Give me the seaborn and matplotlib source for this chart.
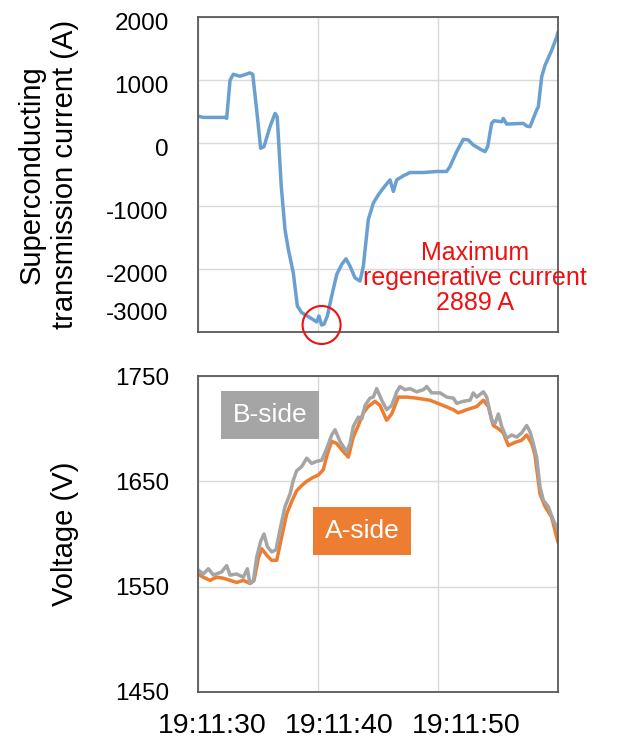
import numpy as np
import pandas as pd
import matplotlib
matplotlib.use("Agg")
import matplotlib.pyplot as plt
import matplotlib.transforms as mtrans
import seaborn as sns

# -------------------------
# Data (seconds after 19:11:30)
# -------------------------

cur_t = [0, 0.44, 2.25, 2.39, 2.67, 2.94, 3.5, 4.33, 4.56, 4.89, 5.22, 5.5, 6.0, 6.42, 6.6,
         6.94, 7.25, 7.53, 7.94, 8.28, 8.64, 9.33, 9.89, 10.08, 10.3, 10.5, 10.78, 11.14,
         11.56, 11.97, 12.33, 12.67, 13.08, 13.5, 13.78, 14.19, 14.61, 15.03, 15.44, 16.0,
         16.28, 16.56, 17.11, 17.67, 18.78, 19.89, 20.72, 21.0, 21.56, 22.11, 22.53, 22.94,
         23.64, 23.92, 24.14, 24.47, 24.67, 25.31, 25.44, 25.72, 27.11, 27.39, 27.67, 28.22,
         28.36, 28.64, 28.92, 29.47, 29.89, 30.0]
cur_a = [427, 406, 406, 390, 996, 1090, 1059, 1112, 1090, 522, -84, -58, 258, 469, 416,
         -690, -1375, -1692, -2060, -2588, -2693, -2772, -2840, -2746, -2889, -2877, -2746, -2430,
         -2087, -1929, -1839, -1955, -2140, -2192, -1955, -1217, -954, -822, -717, -585,
         -769, -585, -522, -469, -469, -453, -453, -374, -137, 58, 47, -32,
         -111, -137, -58, 311, 353, 337, 390, 300, 311, 269, 258, 522,
         574, 1049, 1233, 1470, 1681, 1760]

b_t = [0, 0.44, 0.86, 1.28, 1.97, 2.39, 2.67, 3.22, 3.78, 4.11, 4.33, 4.61, 4.89, 5.22, 5.5,
       5.78, 6.14, 6.5, 6.83, 7.25, 7.67, 7.94, 8.22, 8.64, 9.06, 9.47, 9.89, 10.31, 10.72,
       11.14, 11.42, 11.83, 12.39, 12.67, 12.94, 13.36, 13.64, 13.92, 14.33, 14.61, 14.89,
       15.31, 15.72, 16.14, 16.56, 16.83, 17.25, 17.67, 18.22, 18.78, 19.06, 19.47, 20.17,
       20.72, 21.28, 21.56, 22.11, 22.67, 22.94, 23.22, 23.78, 24.06, 24.47, 24.75, 25.03,
       25.31, 25.72, 26.14, 26.56, 26.97, 27.39, 27.67, 27.94, 28.22, 28.5, 28.78, 29.19,
       29.61, 29.89, 30.0]
b_v = [1566, 1562, 1567, 1561, 1564, 1570, 1561, 1562, 1559, 1567, 1553, 1555, 1578, 1593, 1600,
       1588, 1583, 1585, 1604, 1626, 1638, 1651, 1660, 1664, 1672, 1667, 1669, 1670, 1681,
       1694, 1699, 1688, 1678, 1686, 1702, 1711, 1709, 1722, 1729, 1730, 1738,
       1727, 1718, 1722, 1735, 1740, 1737, 1738, 1735, 1737, 1740, 1734, 1734,
       1730, 1729, 1724, 1726, 1727, 1734, 1730, 1735, 1730, 1708, 1705, 1714,
       1702, 1691, 1694, 1692, 1696, 1703, 1697, 1686, 1673, 1645, 1632, 1626,
       1613, 1607, 1603]

a_t = [0, 0.44, 1.0, 1.56, 2.11, 2.67, 3.22, 3.78, 4.33, 4.67, 5.03, 5.31, 5.72, 6.14, 6.56,
       6.97, 7.39, 7.81, 8.22, 8.64, 9.06, 9.47, 10.03, 10.44, 10.78, 11.14, 11.56, 11.97,
       12.53, 12.94, 13.36, 13.78, 14.19, 14.75, 15.17, 15.72, 16.14, 16.69, 17.39, 18.22,
       19.33, 20.44, 21.28, 21.69, 22.39, 23.22, 23.78, 24.19, 24.61, 25.03, 25.44, 25.86,
       26.42, 26.97, 27.39, 27.81, 28.08, 28.5, 28.92, 29.47, 29.89, 30.0]
a_v = [1562, 1559, 1556, 1559, 1558, 1556, 1554, 1556, 1553, 1556, 1577, 1586, 1580, 1575, 1575,
       1597, 1619, 1631, 1641, 1646, 1650, 1653, 1656, 1661, 1676, 1688, 1686, 1680,
       1673, 1692, 1703, 1715, 1721, 1726, 1722, 1708, 1714, 1730, 1730, 1729,
       1727, 1722, 1718, 1715, 1718, 1721, 1727, 1721, 1703, 1700, 1696, 1684,
       1687, 1689, 1694, 1686, 1675, 1638, 1626, 1616, 1597, 1592]

x_ticks = [0, 10, 20]
x_labels = ["19:11:30", "19:11:40", "19:11:50"]
cur_ticks = [2000, 1000, 0, -1000, -2000, -3000]
volt_ticks = [1750, 1650, 1550, 1450]

# -------------------------
# Style
# -------------------------

sns.set_style("whitegrid")
plt.rcParams["font.family"] = ["Liberation Sans", "DejaVu Sans"]
plt.rcParams["text.color"] = "black"
plt.rcParams["axes.labelcolor"] = "black"
plt.rcParams["xtick.color"] = "black"
plt.rcParams["ytick.color"] = "black"

blue = "#6a9fd2"
orange = "#ed7d31"
gray = "#a5a5a5"
frame = "#595959"

fig = plt.figure(figsize=(6.25, 7.44), dpi=100)
ax1 = fig.add_axes([0.3168, 0.5538, 0.576, 0.4234])
ax2 = fig.add_axes([0.3168, 0.0699, 0.576, 0.4247])

for ax in (ax1, ax2):
    ax.set_xlim(0, 30)
    ax.set_xticks(x_ticks)
    ax.grid(True, color="#d9d9d9", linewidth=1.0)
    ax.tick_params(length=0)
    for s in ax.spines.values():
        s.set_color(frame)
        s.set_linewidth(1.3)
        s.set_visible(True)

# ---------------------------------------------------------
# 1. Superconducting transmission current
# ---------------------------------------------------------

df_cur = pd.DataFrame({"t": cur_t, "I": cur_a})
sns.lineplot(data=df_cur, x="t", y="I", ax=ax1, color=blue, linewidth=2.5)
ax1.set_ylim(-3000, 2000)
ax1.set_yticks(cur_ticks)
ax1.set_yticklabels([str(v) for v in cur_ticks])
ax1.tick_params(axis="y", labelsize=17.5, pad=21)
ax1.set_xticklabels([])
ax1.set_xlabel("")
ax1.set_ylabel("Superconducting\ntransmission current (A)", fontsize=21, linespacing=1.25)
ax1.yaxis.set_label_coords(-0.33, 0.5)

# shift tick labels a little (last one sits above the frame in the original)
for lab, v in zip(ax1.get_yticklabels(), cur_ticks):
    dy = 20 / 100 if v == -3000 else -5 / 100
    lab.set_transform(lab.get_transform() + mtrans.ScaledTranslation(0, dy, fig.dpi_scale_trans))

# circle the minimum
imin = int(np.argmin(cur_a))
ax1.scatter([cur_t[imin]], [cur_a[imin]], s=750, facecolors="none", edgecolors="#ee1111",
            linewidths=1.5, clip_on=False, zorder=5)
ax1.text(0.77, 0.17, "Maximum\nregenerative current\n2889 A", transform=ax1.transAxes,
         ha="center", va="center", color="#ee1111", fontsize=18, linespacing=1.05)

# ---------------------------------------------------------
# 2. Voltage
# ---------------------------------------------------------

df_a = pd.DataFrame({"t": a_t, "V": a_v})
df_b = pd.DataFrame({"t": b_t, "V": b_v})
sns.lineplot(data=df_a, x="t", y="V", ax=ax2, color=orange, linewidth=2.5)
sns.lineplot(data=df_b, x="t", y="V", ax=ax2, color=gray, linewidth=2.5)
ax2.set_ylim(1450, 1750)
ax2.set_yticks(volt_ticks)
ax2.tick_params(axis="y", labelsize=17.5, pad=21)
ax2.set_xticklabels(x_labels)
ax2.tick_params(axis="x", labelsize=20.5, pad=15)
for lab, dx in zip(ax2.get_xticklabels(), [14, 21, 28]):
    lab.set_transform(lab.get_transform() + mtrans.ScaledTranslation(dx / 100, 0, fig.dpi_scale_trans))
ax2.set_xlabel("")
ax2.set_ylabel("Voltage (V)", fontsize=21)
ax2.yaxis.set_label_coords(-0.33, 0.5)

ax2.text(0.2, 0.877, "B-side", transform=ax2.transAxes, ha="center", va="center",
         color="white", fontsize=19,
         bbox=dict(boxstyle="square,pad=0.45", facecolor=gray, edgecolor="none"))
ax2.text(0.456, 0.51, "A-side", transform=ax2.transAxes, ha="center", va="center",
         color="white", fontsize=19,
         bbox=dict(boxstyle="square,pad=0.45", facecolor=orange, edgecolor="none"))

plt.savefig("out.png", dpi=100)
plt.close()
